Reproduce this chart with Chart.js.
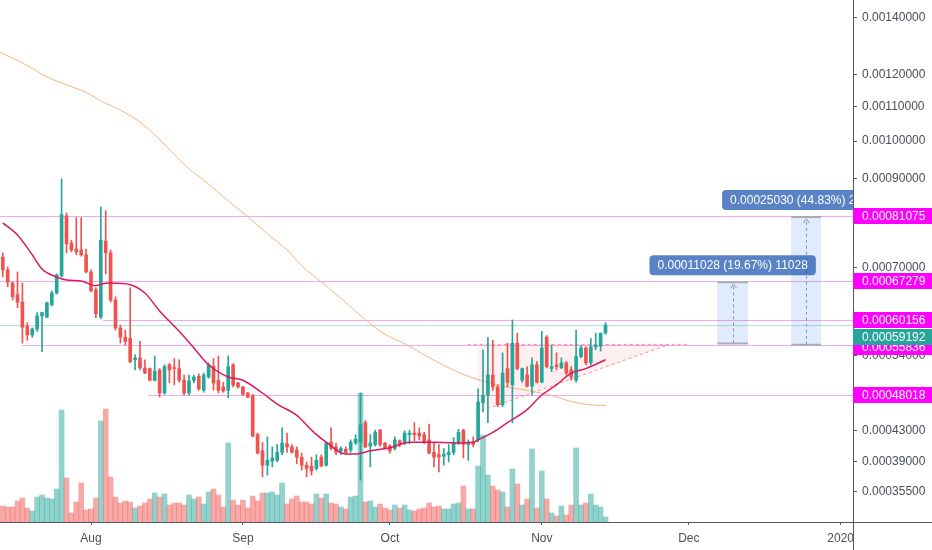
<!DOCTYPE html>
<html>
<head>
<meta charset="utf-8">
<script src="https://cdn.jsdelivr.net/npm/chart.js@4/dist/chart.umd.min.js"></script>
<style>
  html, body { margin: 0; padding: 0; background: #fff; }
  canvas { display: block; }
</style>
</head>
<body>
<canvas id="grafico" width="932" height="550"></canvas>
<script>
// daily candles, the first one is 18 days before Aug 1
const firstDay = -18;

const opens = [
  0.000721,0.000695,0.000669,0.000647,0.000633,0.000590,0.000575,0.000585,0.000608,0.000606,
  0.000628,0.000650,0.000683,0.000811,0.000751,0.000738,0.000736,0.000726,0.000691,0.000656,
  0.000606,0.000755,0.000730,0.000637,0.000587,0.000571,0.000569,0.000534,0.000537,0.000521,
  0.000520,0.000502,0.000518,0.000483,0.000526,0.000521,0.000520,0.000502,0.000483,0.000502,
  0.000508,0.000487,0.000507,0.000524,0.000502,0.000492,0.000487,0.000526,0.000498,0.000492,
  0.000483,0.000479,0.000425,0.000404,0.000386,0.000391,0.000392,0.000402,0.000413,0.000409,
  0.000405,0.000396,0.000386,0.000385,0.000382,0.000396,0.000386,0.000415,0.000409,0.000404,
  0.000406,0.000405,0.000414,0.000415,0.000441,0.000410,0.000412,0.000431,0.000414,0.000410,
  0.000407,0.000417,0.000414,0.000425,0.000427,0.000427,0.000425,0.000418,0.000402,0.000399,
  0.000397,0.000399,0.000402,0.000414,0.000431,0.000412,0.000415,0.000418,0.000469,0.000480,
  0.000510,0.000492,0.000466,0.000520,0.000495,0.000561,0.000502,0.000510,0.000493,0.000526,
  0.000499,0.000571,0.000520,0.000526,0.000521,0.000529,0.000518,0.000502,0.000539,0.000553,
  0.000529,0.000555,0.000556,0.000578
];
const highs = [
  0.000730,0.000701,0.000671,0.000691,0.000669,0.000596,0.000587,0.000614,0.000615,0.000633,
  0.000654,0.000687,0.000900,0.000818,0.000757,0.000807,0.000807,0.000738,0.000695,0.000660,
  0.000832,0.000823,0.000736,0.000643,0.000592,0.000583,0.000660,0.000542,0.000564,0.000534,
  0.000521,0.000540,0.000520,0.000526,0.000528,0.000536,0.000534,0.000510,0.000510,0.000510,
  0.000512,0.000513,0.000529,0.000536,0.000540,0.000499,0.000540,0.000528,0.000499,0.000493,
  0.000484,0.000481,0.000427,0.000415,0.000422,0.000409,0.000412,0.000434,0.000427,0.000412,
  0.000409,0.000401,0.000390,0.000396,0.000399,0.000399,0.000415,0.000434,0.000414,0.000409,
  0.000409,0.000418,0.000425,0.000483,0.000444,0.000425,0.000431,0.000432,0.000415,0.000412,
  0.000422,0.000418,0.000430,0.000431,0.000441,0.000434,0.000428,0.000439,0.000414,0.000412,
  0.000407,0.000412,0.000421,0.000432,0.000432,0.000418,0.000422,0.000489,0.000550,0.000571,
  0.000566,0.000495,0.000545,0.000561,0.000601,0.000578,0.000521,0.000523,0.000537,0.000531,
  0.000581,0.000574,0.000558,0.000545,0.000537,0.000531,0.000523,0.000583,0.000558,0.000555,
  0.000569,0.000578,0.000578,0.000596
];
const lows = [
  0.000681,0.000662,0.000637,0.000623,0.000561,0.000566,0.000571,0.000581,0.000547,0.000605,
  0.000626,0.000648,0.000681,0.000730,0.000732,0.000726,0.000723,0.000689,0.000652,0.000605,
  0.000603,0.000687,0.000633,0.000583,0.000561,0.000558,0.000529,0.000518,0.000518,0.000512,
  0.000501,0.000501,0.000477,0.000481,0.000498,0.000495,0.000499,0.000480,0.000480,0.000498,
  0.000487,0.000484,0.000505,0.000487,0.000483,0.000484,0.000476,0.000492,0.000490,0.000480,
  0.000476,0.000422,0.000400,0.000372,0.000374,0.000384,0.000390,0.000399,0.000402,0.000401,
  0.000388,0.000380,0.000372,0.000374,0.000380,0.000384,0.000385,0.000405,0.000399,0.000399,
  0.000401,0.000402,0.000412,0.000368,0.000408,0.000384,0.000410,0.000410,0.000406,0.000401,
  0.000405,0.000409,0.000412,0.000413,0.000417,0.000418,0.000413,0.000400,0.000384,0.000378,
  0.000386,0.000390,0.000399,0.000412,0.000395,0.000392,0.000409,0.000415,0.000456,0.000441,
  0.000487,0.000463,0.000463,0.000492,0.000441,0.000518,0.000499,0.000492,0.000480,0.000498,
  0.000498,0.000521,0.000515,0.000518,0.000520,0.000510,0.000502,0.000499,0.000537,0.000526,
  0.000526,0.000550,0.000548,0.000576
];
const closes = [
  0.000695,0.000671,0.000643,0.000633,0.000588,0.000575,0.000585,0.000608,0.000614,0.000632,
  0.000650,0.000685,0.000814,0.000749,0.000736,0.000732,0.000726,0.000691,0.000654,0.000612,
  0.000757,0.000730,0.000637,0.000587,0.000571,0.000564,0.000531,0.000537,0.000521,0.000513,
  0.000502,0.000516,0.000483,0.000523,0.000518,0.000520,0.000502,0.000483,0.000501,0.000507,
  0.000489,0.000510,0.000526,0.000498,0.000487,0.000486,0.000523,0.000495,0.000492,0.000481,
  0.000477,0.000423,0.000401,0.000386,0.000392,0.000395,0.000402,0.000414,0.000409,0.000402,
  0.000396,0.000386,0.000382,0.000379,0.000392,0.000385,0.000414,0.000407,0.000402,0.000407,
  0.000402,0.000415,0.000419,0.000438,0.000409,0.000414,0.000428,0.000412,0.000407,0.000404,
  0.000418,0.000412,0.000427,0.000427,0.000425,0.000423,0.000415,0.000401,0.000396,0.000396,
  0.000400,0.000402,0.000415,0.000428,0.000412,0.000415,0.000412,0.000470,0.000480,0.000510,
  0.000492,0.000466,0.000513,0.000499,0.000561,0.000520,0.000520,0.000493,0.000526,0.000499,
  0.000553,0.000523,0.000523,0.000523,0.000529,0.000513,0.000507,0.000539,0.000553,0.000529,
  0.000555,0.000558,0.000578,0.00059192
];
const volumes = [
  16,15,15,21,24,14,11,25,27,24,
  23,33,112,44,9,20,39,12,13,24,
  101,113,45,25,19,21,20,14,16,19,
  23,29,25,28,17,19,19,17,27,23,
  25,18,30,33,27,15,79,22,17,22,
  14,26,21,29,29,30,27,39,18,23,
  26,20,20,18,28,24,28,19,18,15,
  13,25,26,129,20,21,15,18,14,12,
  17,14,17,12,11,13,14,19,15,16,
  13,13,18,19,36,13,13,56,87,47,
  36,32,30,15,53,38,17,23,73,14,
  51,23,9,6,16,7,17,74,17,19,
  28,17,15,5
];

// moving averages (day, price)
const maFastDays = [-18,-15,-12,-10,-7,-5,-2,1,2,4,8,11,14,18,21,24,28,31,35,38,42,45,48,52,54,57,61,65,70,74,78,79,82,85,89,92,95,98,101,105];
const maFastValues = [
  0.000795,0.000768,0.000726,0.000697,0.000681,0.000675,0.000673,0.000664,0.000667,0.000669,
  0.000666,0.000650,0.000617,0.000581,0.000553,0.000526,0.000507,0.000502,0.000483,0.000467,
  0.000451,0.000431,0.000415,0.000400,0.000400,0.000404,0.000408,0.000415,0.000415,0.000414,
  0.000415,0.000418,0.000428,0.000441,0.000459,0.000480,0.000495,0.000513,0.000520,0.000534
];
const maSlowDays = [-18.6,-13.9,-9.0,-4.9,-0.8,2.4,5.9,9.4,13.5,16.7,19.6,23.7,27.8,31.8,35.9,40.0,43.3,47.3,51.4,55.5,59.6,64.5,69.8,75.3,79.4,84.9,89.6,93.7,98.3,101.8,105.1];
const maSlowValues = [
  0.001276,0.001239,0.001193,0.001167,0.001142,0.001114,0.001090,0.001060,0.001011,0.000967,
  0.000930,0.000890,0.000848,0.000811,0.000772,0.000736,0.000701,0.000669,0.000637,0.000605,
  0.000578,0.000558,0.000534,0.000513,0.000502,0.000492,0.000486,0.000480,0.000470,0.000466,
  0.000465
];

// drawn levels and objects
const levelPrices = [0.00081075, 0.00067279, 0.00060156, 0.00055836, 0.00048018];
const levelStartDays = [-18.6, -18.6, 2.45, -14.1, 11.6];
const lastPrice = closes[closes.length - 1];

const triangleTopPrice = 0.000559;
const triangleTopDays = [76.9, 121.8];
const triangleLowStart = [79.7, 0.0004575];
const triangleApexDay = 118.0;
const triangleLeftDay = 79.0;

const measureFromDays = [127.8, 142.9];
const measureToDays = [134.1, 149.0];
const measureBase = [0.00056065, 0.00055833];
const measureTop = [0.00067093, 0.00080863];

const yTicks = [0.0014, 0.0012, 0.0011, 0.001, 0.0009, 0.0008, 0.0007, 0.00054, 0.00043, 0.00039, 0.000355];
const monthTicks = [0, 31, 61, 92, 122, 153];
const monthLabels = ['Aug', 'Sep', 'Oct', 'Nov', 'Dec', '2020'];

// price scale of the picture: logarithmic on (price + shift)
const priceShift = 0.0001;
const LogScale = Chart.LogarithmicScale || Chart.registry.getScale('logarithmic');
class ShiftedLogScale extends LogScale {
  configure() {
    super.configure();
    this._lnStart = Math.log(this.min + priceShift);
    this._lnRange = Math.log(this.max + priceShift) - this._lnStart;
  }
  getPixelForValue(value) {
    if (value === undefined || value === null || isNaN(value)) return NaN;
    return this.getPixelForDecimal((Math.log(value + priceShift) - this._lnStart) / this._lnRange);
  }
  getValueForPixel(pixel) {
    return Math.exp(this._lnStart + this.getDecimalForPixel(pixel) * this._lnRange) - priceShift;
  }
}
ShiftedLogScale.id = 'shiftedLog';
Chart.register(ShiftedLogScale);

const upColor = '#26a69a';
const downColor = '#ef5350';
const isUp = closes.map((c, i) => c >= opens[i]);
const candleColors = isUp.map(u => u ? upColor : downColor);
const volumeColors = isUp.map(u => u ? 'rgba(38,166,154,0.5)' : 'rgba(239,83,80,0.5)');

const wickData = highs.map((h, i) => ({ x: firstDay + i, y: [lows[i], h] }));
const bodyData = opens.map((o, i) => ({ x: firstDay + i, y: [Math.min(o, closes[i]), Math.max(o, closes[i])] }));
const volumeData = volumes.map((v, i) => ({ x: firstDay + i, y: v }));
const fastData = maFastDays.map((d, i) => ({ x: d, y: maFastValues[i] }));
const slowData = maSlowDays.map((d, i) => ({ x: d, y: maSlowValues[i] }));

const FONT = "'Liberation Sans', Arial, sans-serif";

function clipArea(ctx, a) {
  ctx.beginPath();
  ctx.rect(a.left, a.top, a.right - a.left, a.bottom - a.top);
  ctx.clip();
}

const drawings = {
  id: 'drawings',
  beforeDatasetsDraw(chart) {
    const { ctx, chartArea: a, scales: { x, y } } = chart;
    ctx.save();
    clipArea(ctx, a);
    ctx.lineWidth = 1;

    // horizontal levels
    const lastY = Math.round(y.getPixelForValue(lastPrice)) + 0.5;
    ctx.strokeStyle = 'rgba(38,166,154,0.35)';
    ctx.beginPath(); ctx.moveTo(a.left, lastY); ctx.lineTo(a.right, lastY); ctx.stroke();
    levelPrices.forEach((p, i) => {
      const py = Math.round(y.getPixelForValue(p)) + 0.5;
      ctx.strokeStyle = 'rgba(225,45,225,0.42)';
      ctx.beginPath();
      ctx.moveTo(x.getPixelForValue(levelStartDays[i]), py);
      ctx.lineTo(a.right, py);
      ctx.stroke();
    });

    // triangle
    const tTop = y.getPixelForValue(triangleTopPrice);
    const lowX = x.getPixelForValue(triangleLowStart[0]);
    const lowY = y.getPixelForValue(triangleLowStart[1]);
    const apexX = x.getPixelForValue(triangleApexDay);
    const leftX = x.getPixelForValue(triangleLeftDay);
    ctx.fillStyle = 'rgba(242,54,69,0.08)';
    ctx.beginPath();
    ctx.moveTo(leftX, tTop);
    ctx.lineTo(apexX, tTop);
    ctx.lineTo(lowX, lowY);
    ctx.lineTo(leftX, lowY);
    ctx.closePath();
    ctx.fill();
    ctx.strokeStyle = 'rgba(242,54,69,0.55)';
    ctx.setLineDash([3, 3]);
    ctx.beginPath();
    ctx.moveTo(x.getPixelForValue(triangleTopDays[0]), tTop);
    ctx.lineTo(x.getPixelForValue(triangleTopDays[1]), tTop);
    ctx.moveTo(lowX, lowY);
    ctx.lineTo(apexX, tTop);
    ctx.stroke();
    ctx.setLineDash([]);

    // price range boxes
    measureFromDays.forEach((d0, i) => {
      const x0 = x.getPixelForValue(d0);
      const x1 = x.getPixelForValue(measureToDays[i]);
      const yT = y.getPixelForValue(measureTop[i]);
      const yB = y.getPixelForValue(measureBase[i]);
      const cx = Math.round((x0 + x1) / 2) + 0.5;
      ctx.fillStyle = 'rgba(33,120,230,0.14)';
      ctx.fillRect(x0, yT, x1 - x0, yB - yT);
      ctx.strokeStyle = '#a9acb4';
      ctx.lineWidth = 2;
      ctx.beginPath();
      ctx.moveTo(x0, yT); ctx.lineTo(x1, yT);
      ctx.moveTo(x0, yB); ctx.lineTo(x1, yB);
      ctx.stroke();
      ctx.lineWidth = 1;
      ctx.strokeStyle = '#8f929a';
      ctx.setLineDash([3, 3]);
      ctx.beginPath(); ctx.moveTo(cx, yB); ctx.lineTo(cx, yT + 2); ctx.stroke();
      ctx.setLineDash([]);
      ctx.beginPath();
      ctx.moveTo(cx - 3, yT + 6); ctx.lineTo(cx, yT + 2); ctx.lineTo(cx + 3, yT + 6);
      ctx.stroke();
    });
    ctx.restore();
  },
  afterDatasetsDraw(chart) {
    const { ctx, chartArea: a, scales: { x, y } } = chart;
    ctx.save();
    clipArea(ctx, a);
    ctx.font = '12px ' + FONT;
    measureFromDays.forEach((d0, i) => {
      const cx = (x.getPixelForValue(d0) + x.getPixelForValue(measureToDays[i])) / 2;
      const yT = y.getPixelForValue(measureTop[i]);
      const diff = measureTop[i] - measureBase[i];
      const text = diff.toFixed(8) + ' (' + (diff / measureBase[i] * 100).toFixed(2) + '%) ' + Math.round(diff * 1e8);
      const w = ctx.measureText(text).width + 16;
      const h = 20;
      const bx = cx - w / 2, by = yT - 7 - h;
      ctx.fillStyle = 'rgba(35,90,180,0.75)';
      ctx.beginPath();
      if (ctx.roundRect) ctx.roundRect(bx, by, w, h, 4); else ctx.rect(bx, by, w, h);
      ctx.fill();
      ctx.fillStyle = '#fff';
      ctx.textAlign = 'center';
      ctx.textBaseline = 'middle';
      ctx.fillText(text, cx, by + h / 2 + 0.5);
    });
    ctx.restore();
  },
  afterDraw(chart) {
    const { ctx, chartArea: a, scales: { y }, width, height } = chart;
    ctx.save();
    // bottom right corner of the price scale
    ctx.fillStyle = '#fff';
    ctx.fillRect(a.right + 1, a.bottom + 1, width - a.right, height - a.bottom);
    ctx.strokeStyle = '#55585f';
    ctx.lineWidth = 1;
    ctx.beginPath();
    ctx.moveTo(Math.round(a.right) + 0.5, a.bottom);
    ctx.lineTo(Math.round(a.right) + 0.5, height);
    ctx.moveTo(a.right, Math.round(a.bottom) + 0.5);
    ctx.lineTo(width, Math.round(a.bottom) + 0.5);
    ctx.stroke();

    // price tags on the scale
    ctx.font = '12px ' + FONT;
    ctx.textAlign = 'left';
    ctx.textBaseline = 'middle';
    const tag = (price, bg, nudge) => {
      const py = Math.round(y.getPixelForValue(price)) + nudge;
      ctx.fillStyle = bg;
      ctx.fillRect(a.right, py - 8, width - a.right, 16);
      ctx.fillStyle = '#fff';
      ctx.fillText(price.toFixed(8), a.right + 9, py + 0.5);
    };
    levelPrices.forEach(p => tag(p, '#f0f', p === 0.00055836 ? 2 : 0));
    tag(lastPrice, '#26a69a', 12);
    ctx.restore();
  }
};

const ctx = document.getElementById('grafico').getContext('2d');
new Chart(ctx, {
  type: 'bar',
  data: {
    datasets: [
      {
        type: 'bar', data: volumeData, yAxisID: 'yVol',
        backgroundColor: volumeColors, borderWidth: 0,
        barThickness: 5, maxBarThickness: 5, grouped: false, order: 6
      },
      {
        type: 'line', data: slowData, yAxisID: 'y',
        borderColor: '#f9b47c', borderWidth: 1, pointRadius: 0,
        tension: 0.4, cubicInterpolationMode: 'monotone', order: 5
      },
      {
        type: 'bar', data: wickData, yAxisID: 'y',
        backgroundColor: candleColors, borderWidth: 0,
        barThickness: 1, maxBarThickness: 1, grouped: false, order: 3
      },
      {
        type: 'bar', data: bodyData, yAxisID: 'y',
        backgroundColor: candleColors, borderWidth: 0, minBarLength: 1,
        barThickness: 3, maxBarThickness: 3, grouped: false, order: 2
      },
      {
        type: 'line', data: fastData, yAxisID: 'y',
        borderColor: '#d81b60', borderWidth: 1.5, pointRadius: 0,
        tension: 0.4, cubicInterpolationMode: 'monotone', order: 1
      }
    ]
  },
  options: {
    responsive: false,
    animation: false,
    events: [],
    layout: { padding: 0 },
    font: { family: FONT, size: 12 },
    plugins: {
      legend: { display: false },
      tooltip: { enabled: false }
    },
    scales: {
      x: {
        type: 'linear',
        min: -91 / 4.9,
        max: (853 - 91) / 4.9,
        offset: false,
        grid: { drawOnChartArea: false, drawTicks: true, tickLength: 3, color: '#55585f', offset: false },
        border: { color: '#55585f' },
        afterBuildTicks: s => { s.ticks = monthTicks.map(v => ({ value: v })); },
        afterFit: s => { s.height = 28; s.paddingLeft = 0; s.paddingRight = 0; },
        ticks: {
          autoSkip: false, maxRotation: 0, padding: 6,
          color: '#4a4e57', font: { family: FONT, size: 12 },
          callback: (v, i) => monthLabels[i]
        }
      },
      y: {
        type: 'shiftedLog',
        position: 'right',
        min: 0.0003212,
        max: 0.0014696,
        bounds: 'data',
        grid: { drawOnChartArea: false, drawTicks: true, tickLength: 4, color: '#55585f' },
        border: { color: '#55585f' },
        afterBuildTicks: s => { s.ticks = yTicks.map(v => ({ value: v })); },
        afterFit: s => { s.width = 79; s.paddingTop = 0; s.paddingBottom = 0; },
        ticks: {
          autoSkip: false, padding: 5,
          color: '#4a4e57', font: { family: FONT, size: 12 },
          callback: v => Number(v).toFixed(8)
        }
      },
      yVol: {
        type: 'linear',
        display: false,
        min: 0,
        max: 522
      }
    }
  },
  plugins: [drawings]
});
</script>
</body>
</html>
